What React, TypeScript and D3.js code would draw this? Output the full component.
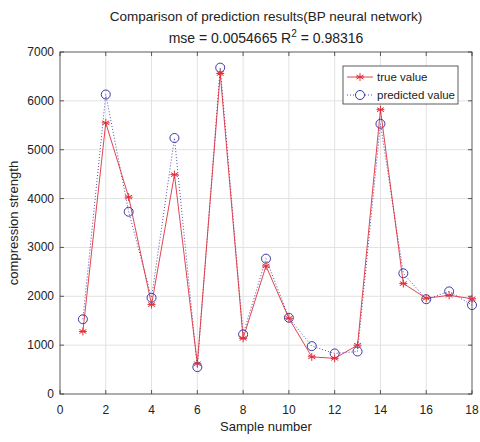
import React, { useEffect, useRef } from 'react';
import * as d3 from 'd3';

// sample index 1..18
const samples = d3.range(1, 19);
const trueValues = [1280, 5550, 4030, 1830, 4490, 620, 6560, 1140, 2620, 1550, 760, 730, 1000, 5820, 2260, 1960, 2020, 1950];
const predictedValues = [1530, 6130, 3730, 1970, 5240, 550, 6680, 1220, 2770, 1560, 980, 830, 870, 5530, 2470, 1940, 2100, 1820];
const xTicks = [0, 2, 4, 6, 8, 10, 12, 14, 16, 18];
const yTicks = [0, 1000, 2000, 3000, 4000, 5000, 6000, 7000];

const W = 480, H = 442;
const margin = { top: 52, right: 8, bottom: 48, left: 60 };
const RED = '#e0303a';
const BLUE = '#3a3aa8';
const FONT = '"Liberation Sans", Arial, sans-serif';

const App: React.FC = () => {
  const ref = useRef<SVGSVGElement>(null);

  useEffect(() => {
    if (!ref.current) return;
    const svg = d3.select(ref.current);
    svg.selectAll('*').remove();

    const x = d3.scaleLinear().domain([0, 18]).range([margin.left, W - margin.right]);
    const y = d3.scaleLinear().domain([0, 7000]).range([H - margin.bottom, margin.top]);
    const [x0, x1] = x.range();
    const [y0, y1] = y.range();

    svg.append('rect').attr('width', W).attr('height', H).attr('fill', '#fff');

    // grid
    const grid = svg.append('g').attr('stroke', '#e2e2e2').attr('stroke-width', 1);
    xTicks.slice(1, -1).forEach(t => {
      grid.append('line').attr('x1', x(t)).attr('x2', x(t)).attr('y1', y0).attr('y2', y1);
    });
    yTicks.slice(1, -1).forEach(t => {
      grid.append('line').attr('x1', x0).attr('x2', x1).attr('y1', y(t)).attr('y2', y(t));
    });

    // box and inward ticks
    const ax = svg.append('g').attr('stroke', '#333').attr('stroke-width', 0.8).attr('fill', 'none');
    ax.append('rect').attr('x', x0).attr('y', y1).attr('width', x1 - x0).attr('height', y0 - y1);
    xTicks.forEach(t => {
      ax.append('line').attr('x1', x(t)).attr('x2', x(t)).attr('y1', y0).attr('y2', y0 - 4);
      ax.append('line').attr('x1', x(t)).attr('x2', x(t)).attr('y1', y1).attr('y2', y1 + 4);
    });
    yTicks.forEach(t => {
      ax.append('line').attr('x1', x0).attr('x2', x0 + 4).attr('y1', y(t)).attr('y2', y(t));
      ax.append('line').attr('x1', x1).attr('x2', x1 - 4).attr('y1', y(t)).attr('y2', y(t));
    });

    const txt = svg.append('g').attr('font-family', FONT).attr('fill', '#222');
    xTicks.forEach(t => {
      txt.append('text').attr('x', x(t)).attr('y', y0 + 20).attr('text-anchor', 'middle')
        .attr('font-size', 12).text(t);
    });
    yTicks.forEach(t => {
      txt.append('text').attr('x', x0 - 6).attr('y', y(t) + 4).attr('text-anchor', 'end')
        .attr('font-size', 12).text(t);
    });
    txt.append('text').attr('x', (x0 + x1) / 2).attr('y', 431).attr('text-anchor', 'middle')
      .attr('font-size', 13).text('Sample number');
    txt.append('text').attr('transform', `translate(18,${(y0 + y1) / 2}) rotate(-90)`)
      .attr('text-anchor', 'middle').attr('font-size', 13).text('compression strength');
    txt.append('text').attr('x', (x0 + x1) / 2).attr('y', 21).attr('text-anchor', 'middle')
      .attr('font-size', 13.5).text('Comparison of prediction results(BP neural network)');
    const sub = txt.append('text').attr('x', (x0 + x1) / 2).attr('y', 43).attr('text-anchor', 'middle')
      .attr('font-size', 14);
    sub.append('tspan').text('mse = 0.0054665 R');
    sub.append('tspan').attr('dy', -6).attr('font-size', 10).text('2');
    sub.append('tspan').attr('dy', 6).text(' = 0.98316');

    const line = d3.line<number>().x((_, i) => x(samples[i])).y(d => y(d));

    const star = (g: d3.Selection<SVGGElement, unknown, null, undefined>, cx: number, cy: number) => {
      const r = 4;
      const s = g.append('g').attr('stroke', RED).attr('stroke-width', 1);
      [0, 60, 120].forEach(a => {
        const rad = (a * Math.PI) / 180;
        s.append('line').attr('x1', cx - r * Math.sin(rad)).attr('y1', cy - r * Math.cos(rad))
          .attr('x2', cx + r * Math.sin(rad)).attr('y2', cy + r * Math.cos(rad));
      });
      s.append('line').attr('x1', cx - r).attr('x2', cx + r).attr('y1', cy).attr('y2', cy);
    };

    // predicted: dotted blue with circles
    svg.append('path').datum(predictedValues).attr('d', line).attr('fill', 'none')
      .attr('stroke', BLUE).attr('stroke-width', 0.9).attr('stroke-dasharray', '1,2');
    // true: red solid with stars
    svg.append('path').datum(trueValues).attr('d', line).attr('fill', 'none')
      .attr('stroke', RED).attr('stroke-width', 0.9);

    const mk = svg.append('g');
    predictedValues.forEach((v, i) => {
      mk.append('circle').attr('cx', x(samples[i])).attr('cy', y(v)).attr('r', 4.5)
        .attr('fill', 'none').attr('stroke', BLUE).attr('stroke-width', 1);
    });
    trueValues.forEach((v, i) => star(mk, x(samples[i]), y(v)));

    // legend
    const lg = svg.append('g');
    lg.append('rect').attr('x', 343).attr('y', 66).attr('width', 115).attr('height', 38)
      .attr('fill', '#fff').attr('stroke', '#333').attr('stroke-width', 0.8);
    lg.append('line').attr('x1', 347).attr('x2', 373).attr('y1', 77).attr('y2', 77)
      .attr('stroke', RED).attr('stroke-width', 0.9);
    star(lg, 360, 77);
    lg.append('line').attr('x1', 347).attr('x2', 373).attr('y1', 95).attr('y2', 95)
      .attr('stroke', BLUE).attr('stroke-width', 0.9).attr('stroke-dasharray', '1,2');
    lg.append('circle').attr('cx', 360).attr('cy', 95).attr('r', 4.5).attr('fill', '#fff')
      .attr('stroke', BLUE).attr('stroke-width', 1);
    lg.append('text').attr('x', 377).attr('y', 81).attr('font-family', FONT).attr('font-size', 11.5)
      .attr('fill', '#222').text('true value');
    lg.append('text').attr('x', 377).attr('y', 99).attr('font-family', FONT).attr('font-size', 11.5)
      .attr('fill', '#222').text('predicted value');
  }, []);

  return (
    <svg ref={ref} width={W} height={H}
      style={{ position: 'absolute', left: 0, top: 0, display: 'block' }} />
  );
};

export default App;
